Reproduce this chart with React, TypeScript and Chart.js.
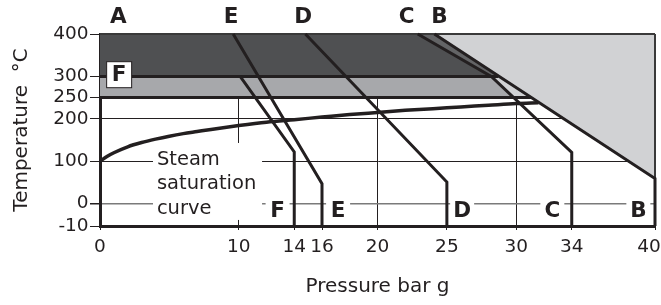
import React, { useEffect, useRef } from 'react';
import { Chart, registerables } from 'chart.js';

Chart.register(...registerables);

// ---- Axis ticks ----
const xTickValues = [0, 10, 14, 16, 20, 25, 30, 34, 40];
const xTickLabels = ['0', '10', '14', '16', '20', '25', '30', '34', '40  '];
const yTickValues = [-10, 0, 100, 200, 250, 300, 400];
const yTickLabels = ['-10', '0', '100', '200', '250', '300', '400'];

// ---- Steam saturation curve (pressure bar g, temperature °C) ----
const steamPressure = [0, 0.5, 1, 2, 3, 4, 5, 6, 7, 8, 10, 12, 14, 16, 18, 20, 22, 24, 26, 28, 30, 31.6];
const steamTemp = [100, 111, 120, 134, 144, 152, 159, 165, 170, 175, 184, 192, 198, 204, 210, 215, 220, 224, 228, 232, 236, 238];

// ---- Limit lines ----
const lineB_P = [24.1, 40, 40];
const lineB_T = [400, 59, -10];
const lineC_P = [22.9, 28.2, 34, 34];
const lineC_T = [400, 300, 121, -10];
const lineD_P = [14.8, 25, 25];
const lineD_T = [400, 51, -10];
const lineE_P = [9.6, 16, 16];
const lineE_T = [400, 47, -10];
const lineF_P = [10.1, 14, 14];
const lineF_T = [300, 122, -10];
const line300_P = [0, 28.7];
const line300_T = [300, 300];
const line250_P = [0, 31.1];
const line250_T = [250, 250];
const topEdge_P = [0, 40];
const topEdge_T = [400, 400];
const rightEdge_P = [40, 40];
const rightEdge_T = [400, 59];

// ---- Shaded zones ----
const zoneDark_P = [0, 0, 22.9, 28.2];
const zoneDark_T = [300, 400, 400, 300];
const zoneSliver_P = [22.9, 24.1, 28.7, 28.2];
const zoneSliver_T = [400, 400, 300, 300];
const zoneMid_P = [0, 0, 28.2, 29.8];
const zoneMid_T = [250, 300, 300, 250];
const zoneLight_P = [24.1, 40, 40, 31.1, 29.8, 28.2, 28.7];
const zoneLight_T = [400, 400, 59, 250, 250, 300, 300];

// The axis below 0 °C is drawn stretched (0 .. -10 occupies a larger band)
const BELOW_ZERO_STRETCH = 5.28;
const axisT = (t: number) => (t < 0 ? t * BELOW_ZERO_STRETCH : t);

const pts = (P: number[], T: number[]) => P.map((p, i) => ({ x: p, y: axisT(T[i]) }));

const INK = '#231f20';
const FONT = 'DejaVu Sans';

const fillSet = (P: number[], T: number[], color: string) => ({
  data: pts(P, T),
  backgroundColor: color,
  borderColor: 'rgba(0,0,0,0)',
  borderWidth: 0,
  fill: 'shape',
  pointRadius: 0,
  pointHoverRadius: 0,
  clip: false,
});

const lineSet = (P: number[], T: number[], width: number, color = INK, extra: any = {}) => ({
  data: pts(P, T),
  borderColor: color,
  backgroundColor: color,
  borderWidth: width,
  fill: false,
  pointRadius: 0,
  pointHoverRadius: 0,
  borderJoinStyle: 'miter',
  tension: 0,
  clip: false,
  ...extra,
});

const annotationPlugin = {
  id: 'annotations',
  beforeDatasetsDraw(chart: any) {
    const { ctx } = chart;
    const xs = chart.scales.x;
    const ys = chart.scales.y;
    const X = (p: number) => xs.getPixelForValue(p);
    const Y = (t: number) => ys.getPixelForValue(axisT(t));
    ctx.save();
    ctx.fillStyle = '#ffffff';
    // Steam text background
    ctx.fillRect(X(3.82), Y(143), X(11.68) - X(3.82), Y(-7.3) - Y(143));
    // bottom letter backgrounds
    const bottom = [12.8, 17.16, 26.1, 32.6, 38.8];
    bottom.forEach((p) => {
      ctx.fillRect(X(p) - 12, Y(4), 24, Y(-8.8) - Y(4));
    });
    ctx.restore();
  },
  afterDatasetsDraw(chart: any) {
    const { ctx } = chart;
    const xs = chart.scales.x;
    const ys = chart.scales.y;
    const X = (p: number) => xs.getPixelForValue(p);
    const Y = (t: number) => ys.getPixelForValue(axisT(t));
    ctx.save();
    ctx.fillStyle = INK;
    // Steam saturation curve label
    ctx.font = `19.5px "${FONT}"`;
    ctx.textAlign = 'left';
    ctx.textBaseline = 'alphabetic';
    ctx.fillText('Steam', X(4.1), Y(91));
    ctx.fillText('saturation', X(4.1), Y(33.3));
    ctx.fillText('curve', X(4.1), Y(-4.6));

    // Top letters
    ctx.font = `bold 21.5px "${FONT}"`;
    ctx.textAlign = 'center';
    ctx.textBaseline = 'middle';
    const top: [string, number][] = [['A', 1.32], ['E', 9.44], ['D', 14.65], ['C', 22.1], ['B', 24.47]];
    top.forEach(([s, p]) => ctx.fillText(s, X(p), Y(438)));

    // Bottom letters
    const bottom: [string, number][] = [['F', 12.8], ['E', 17.16], ['D', 26.1], ['C', 32.6], ['B', 38.8]];
    bottom.forEach(([s, p]) => ctx.fillText(s, X(p), Y(-3.6)));

    // Boxed F on the 300 line
    const cx = X(1.38);
    const cy = Y(304);
    ctx.fillStyle = '#ffffff';
    ctx.fillRect(cx - 12.5, cy - 13, 25, 26);
    ctx.strokeStyle = INK;
    ctx.lineWidth = 1;
    ctx.strokeRect(cx - 12.5, cy - 13, 25, 26);
    ctx.fillStyle = INK;
    ctx.fillText('F', cx, cy + 0.5);
    ctx.restore();
  },
};

const drawList: any[] = [
  fillSet(zoneLight_P, zoneLight_T, '#d1d2d4'),
  fillSet(zoneDark_P, zoneDark_T, '#4f5052'),
  fillSet(zoneSliver_P, zoneSliver_T, '#636466'),
  fillSet(zoneMid_P, zoneMid_T, '#a7a8ab'),
  lineSet(topEdge_P, topEdge_T, 2, '#3a3a3a'),
  lineSet(rightEdge_P, rightEdge_T, 2, '#3a3a3a'),
  lineSet(steamPressure, steamTemp, 3.5, INK, { cubicInterpolationMode: 'monotone' }),
  lineSet(line300_P, line300_T, 3),
  lineSet(line250_P, line250_T, 3),
  lineSet(lineF_P, lineF_T, 3),
  lineSet(lineE_P, lineE_T, 3),
  lineSet(lineD_P, lineD_T, 3),
  lineSet(lineC_P, lineC_T, 3),
  lineSet(lineB_P, lineB_T, 3),
];
const datasets = drawList.map((d, i) => ({ ...d, order: drawList.length - i }));

export default function App() {
  const ref = useRef<HTMLCanvasElement>(null);
  useEffect(() => {
    const canvas = ref.current;
    if (!canvas) return;
    const chart = new Chart(canvas, {
      type: 'line',
      data: { datasets },
      plugins: [annotationPlugin],
      options: {
        responsive: false,
        devicePixelRatio: 1,
        animation: false,
        events: [],
        layout: { padding: { top: 34, right: 6, bottom: 0, left: 0 } },
        plugins: { legend: { display: false }, tooltip: { enabled: false } },
        scales: {
          x: {
            type: 'linear',
            min: 0,
            max: 40,
            afterBuildTicks: (s: any) => {
              s.ticks = xTickValues.map((v) => ({ value: v }));
            },
            afterFit: (s: any) => {
              s.height = 79;
              s.paddingLeft = 0;
              s.paddingRight = 0;
            },
            ticks: {
              autoSkip: false,
              maxRotation: 0,
              minRotation: 0,
              padding: 6,
              color: INK,
              font: { family: FONT, size: 18.5 },
              callback: (_v: any, i: number) => xTickLabels[i],
            },
            grid: {
              color: (c: any) => ([10, 20, 30].includes(c.tick?.value) ? INK : 'rgba(0,0,0,0)'),
              lineWidth: 1,
              tickColor: INK,
              tickLength: 4,
            },
            border: { display: true, color: INK, width: 3 },
            title: {
              display: true,
              text: 'Pressure bar g',
              color: INK,
              font: { family: FONT, size: 20 },
              padding: { top: 0, bottom: 6.6 },
            },
          },
          y: {
            type: 'linear',
            min: axisT(-10),
            max: 400,
            afterBuildTicks: (s: any) => {
              s.ticks = yTickValues.map((v) => ({ value: axisT(v) }));
            },
            afterFit: (s: any) => {
              s.width = 100;
              s.paddingTop = 0;
              s.paddingBottom = 0;
            },
            ticks: {
              autoSkip: false,
              padding: 1.4,
              color: INK,
              font: { family: FONT, size: 18.5 },
              callback: (_v: any, i: number) => yTickLabels[i],
            },
            grid: {
              color: (c: any) => {
                const v = c.tick?.value;
                if (v === 0) return '#7a7a7a';
                if (v === 100 || v === 200) return INK;
                return 'rgba(0,0,0,0)';
              },
              lineWidth: (c: any) => (c.tick?.value === 0 ? 1.5 : 1),
              tickColor: INK,
              tickLength: 10,
            },
            border: { display: true, color: INK, width: 3 },
            title: {
              display: true,
              text: 'Temperature  °C',
              color: INK,
              font: { family: FONT, size: 20 },
              padding: { top: 9.4, bottom: 0 },
            },
          },
        },
      } as any,
    });
    return () => chart.destroy();
  }, []);
  return (
    <div style={{ position: 'fixed', left: 0, top: 0, width: 661, height: 305, background: '#ffffff' }}>
      <canvas ref={ref} width={661} height={305} style={{ display: 'block', width: 661, height: 305 }} />
    </div>
  );
}
